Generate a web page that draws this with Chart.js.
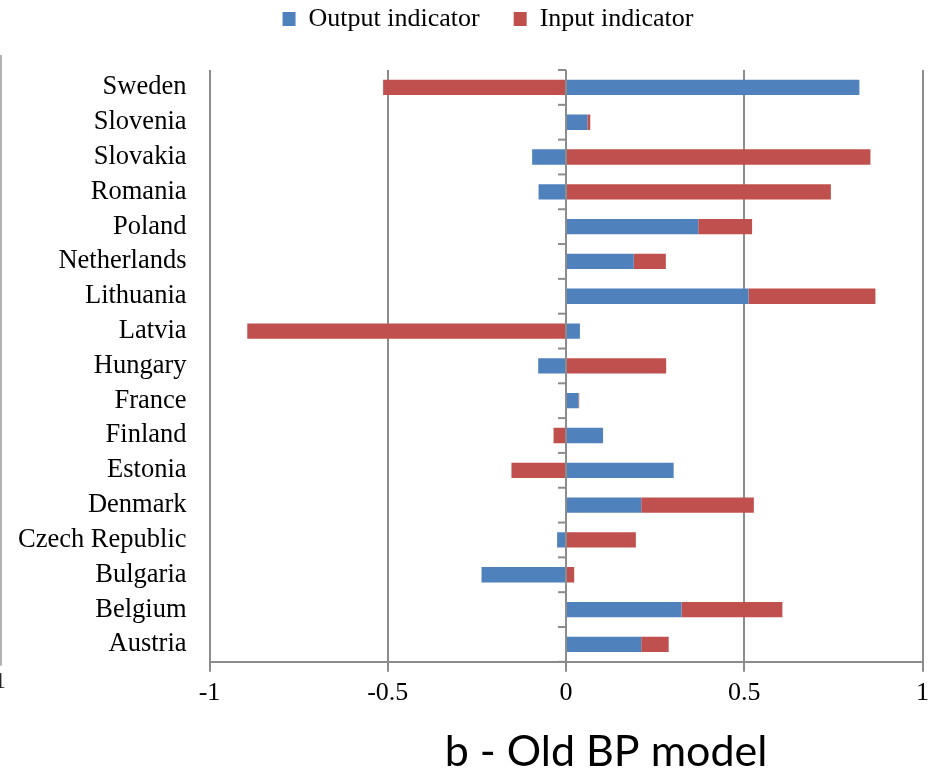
<!DOCTYPE html>
<html>
<head>
<meta charset="utf-8">
<script src="https://cdn.jsdelivr.net/npm/chart.js@4/dist/chart.umd.min.js"></script>
<style>
  html, body { margin: 0; padding: 0; background: #fff; }
  #wrap { width: 935px; height: 770px; position: relative; }
</style>
</head>
<body>
<div id="wrap"><canvas id="bp-chart"></canvas></div>
<script>
// countries, top to bottom as in the picture
const countries = ['Sweden', 'Slovenia', 'Slovakia', 'Romania', 'Poland', 'Netherlands',
    'Lithuania', 'Latvia', 'Hungary', 'France', 'Finland', 'Estonia', 'Denmark',
    'Czech Republic', 'Bulgaria', 'Belgium', 'Austria'];

const outputIndicator = [0.823, 0.060, -0.095, -0.077, 0.371, 0.190,
    0.512, 0.039, -0.078, 0.035, 0.104, 0.302, 0.211,
    -0.025, -0.237, 0.324, 0.211];

const inputIndicator = [-0.513, 0.008, 0.854, 0.743, 0.151, 0.090,
    0.356, -0.894, 0.281, 0.002, -0.035, -0.153, 0.316,
    0.196, 0.023, 0.283, 0.077];

const xTicks = [-1, -0.5, 0, 0.5, 1];
const chartTitle = 'b - Old BP model';

const gray = '#8c8c8c';
const serif = "'Liberation Serif', 'Times New Roman', serif";

// small ticks on the zero line between categories + the title under the chart
const extras = {
    id: 'extras',
    afterLayout(chart) {
        // legend sits a bit right of centre in the original
        if (chart.legend) {
            chart.legend.left += 29;
            chart.legend.right += 29;
        }
    },
    afterDatasetsDraw(chart) {
        const ctx = chart.ctx;
        const xs = chart.scales.x;
        const ys = chart.scales.y;
        const x0 = xs.getPixelForValue(0);
        ctx.save();
        ctx.strokeStyle = gray;
        ctx.lineWidth = 2;
        const n = countries.length;
        const step = ys.getPixelForValue(1) - ys.getPixelForValue(0);
        for (let i = 0; i <= n; i++) {
            const y = ys.getPixelForValue(0) + (i - 0.5) * step;
            ctx.beginPath();
            ctx.moveTo(x0 - 8, y);
            ctx.lineTo(x0, y);
            ctx.stroke();
        }
        ctx.restore();
    },
    afterDraw(chart) {
        const ctx = chart.ctx;
        const area = chart.chartArea;
        ctx.save();
        // stray edge of the neighbouring chart on the left
        ctx.strokeStyle = '#999';
        ctx.lineWidth = 1.5;
        ctx.beginPath();
        ctx.moveTo(1, 55);
        ctx.lineTo(1, area.bottom + 4);
        ctx.stroke();
        ctx.fillStyle = '#222';
        ctx.font = '24px ' + serif;
        ctx.textBaseline = 'middle';
        ctx.fillText('1', -6, area.bottom + 20);
        // title
        ctx.fillStyle = '#000';
        ctx.font = "43px Lato, 'Open Sans', sans-serif";
        ctx.textAlign = 'center';
        ctx.textBaseline = 'alphabetic';
        ctx.fillText(chartTitle, (area.left + area.right) / 2 + 40, 766);
        ctx.restore();
    }
};

new Chart(document.querySelector('#bp-chart'), {
    type: 'bar',
    data: {
        labels: countries,
        datasets: [{
            label: 'Output indicator',
            data: outputIndicator,
            backgroundColor: '#4F81BD',
            barPercentage: 0.44,
            categoryPercentage: 1.0
        }, {
            label: 'Input indicator',
            data: inputIndicator,
            backgroundColor: '#C0504D',
            barPercentage: 0.44,
            categoryPercentage: 1.0
        }]
    },
    options: {
        indexAxis: 'y',
        responsive: true,
        maintainAspectRatio: false,
        animation: false,
        layout: { padding: { left: -5, right: 12, top: -28, bottom: 55 } },
        plugins: {
            legend: {
                position: 'top',
                labels: {
                    boxWidth: 13,
                    boxHeight: 14,
                    color: '#000',
                    padding: 34,
                    font: { family: serif, size: 26 }
                }
            },
            tooltip: { enabled: false }
        },
        scales: {
            x: {
                stacked: true,
                min: -1,
                max: 1,
                afterBuildTicks(axis) {
                    axis.ticks = xTicks.map(v => ({ value: v }));
                },
                grid: {
                    color: gray,
                    lineWidth: 2,
                    drawTicks: true,
                    tickLength: 10
                },
                border: { display: true, color: gray, width: 2 },
                ticks: {
                    color: '#000',
                    padding: 6,
                    font: { family: serif, size: 26 },
                    callback: v => String(v)
                }
            },
            // empty top axis, only keeps a gap under the legend
            gap: {
                axis: 'x',
                position: 'top',
                display: true,
                grid: { display: false },
                border: { display: false },
                ticks: { display: false },
                afterFit(scale) { scale.height = 28; }
            },
            y: {
                stacked: true,
                grid: { display: false, drawTicks: false },
                border: { display: false },
                ticks: {
                    color: '#000',
                    padding: 23,
                    font: { family: serif, size: 26.5 }
                }
            }
        }
    },
    plugins: [extras]
});
</script>
</body>
</html>
